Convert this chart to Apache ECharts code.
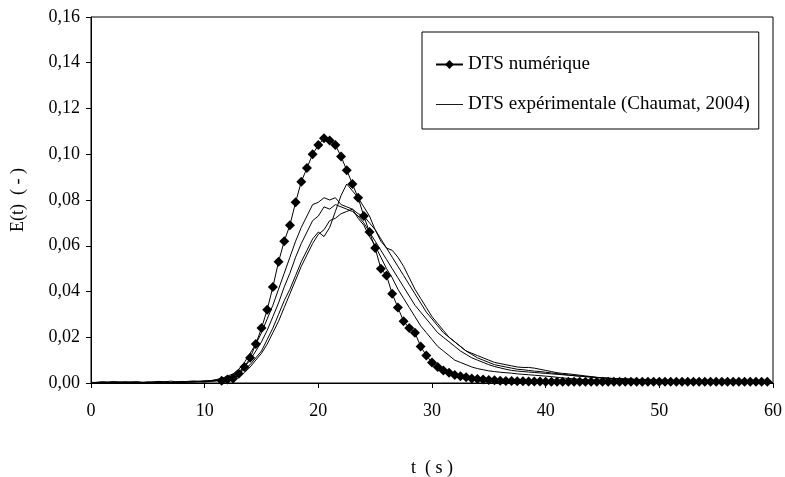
<!DOCTYPE html>
<html><head><meta charset="utf-8">
<script src="https://cdn.jsdelivr.net/npm/echarts@6/dist/echarts.min.js"></script>
<style>html,body{margin:0;padding:0;background:#fff}#c{width:785px;height:477px}</style>
</head><body><div id="c"></div>
<script>
// Numerical RTD (diamonds)
const tNum = [11.5,12,12.5,13,13.5,14,14.5,15,15.5,16,16.5,17,17.5,18,18.5,19,19.5,20,20.5,21,21.5,22,22.5,23,23.5,24,24.5,25,25.5,26,26.5,27,27.5,28,28.5,29,29.5,30,30.5,31,31.5,32,32.5,33,33.5,34,34.5,35,35.5,36,36.5,37,37.5,38,38.5,39,39.5,40,40.5,41,41.5,42,42.5,43,43.5,44,44.5,45,45.5,46,46.5,47,47.5,48,48.5,49,49.5,50,50.5,51,51.5,52,52.5,53,53.5,54,54.5,55,55.5,56,56.5,57,57.5,58,58.5,59,59.5,60];
const eNum = [0.001,0.0015,0.002,0.004,0.007,0.011,0.017,0.024,0.032,0.042,0.053,0.062,0.069,0.079,0.088,0.094,0.100,0.104,0.107,0.106,0.104,0.099,0.093,0.087,0.081,0.073,0.066,0.059,0.050,0.047,0.039,0.033,0.027,0.024,0.022,0.016,0.012,0.009,0.007,0.0055,0.0045,0.0035,0.003,0.0025,0.002,0.0018,0.0015,0.0013,0.0012,0.001,0.0009,0.0009,0.0008,0.0008,0.0007,0.0007,0.0007,0.0006,0.0006,0.0006,0.0006,0.0005,0.0005,0.0005,0.0005,0.0005,0.0005,0.0005,0.0005,0.0005,0.0005,0.0005,0.0005,0.0005,0.0005,0.0005,0.0005,0.0005,0.0005,0.0005,0.0005,0.0005,0.0005,0.0005,0.0005,0.0005,0.0005,0.0005,0.0005,0.0005,0.0005,0.0005,0.0005,0.0005,0.0005,0.0005,0.0005];
// Experimental RTD time base
const tExp = [0,1,2,3,4,5,6,7,8,9,10,10.5,11,11.5,12,12.5,13,13.5,14,14.5,15,15.5,16,16.5,17,17.5,18,18.5,19,19.5,20,20.5,21,21.5,22,22.5,23,23.5,24,24.5,25,25.5,26,26.5,27,27.5,28,28.5,29,29.5,30,30.5,31,31.5,32,32.5,33,33.5,34,34.5,35,35.5,36,36.5,37,37.5,38,38.5,39,39.5,40,40.5,41,41.5,42,42.5,43,43.5,44,44.5,45,46,47,48,49,50,51,52,53,54,55,56,57,58,59,60];
const expA = [0,0.0005,0,0.0003,0,0.0005,0.0002,0.0008,0.0003,0.0005,0.001,0.001,0.0015,0.002,0.003,0.004,0.006,0.009,0.013,0.017,0.022,0.028,0.034,0.041,0.048,0.055,0.062,0.068,0.073,0.078,0.079,0.081,0.080,0.081,0.078,0.077,0.076,0.072,0.069,0.064,0.060,0.055,0.050,0.046,0.041,0.037,0.033,0.029,0.025,0.022,0.019,0.016,0.014,0.012,0.010,0.009,0.008,0.007,0.0063,0.0058,0.0053,0.005,0.0047,0.0045,0.0043,0.004,0.0038,0.0036,0.0034,0.0032,0.003,0.0028,0.0025,0.0022,0.002,0.0018,0.0016,0.0014,0.0012,0.001,0.001,0.0008,0.0006,0.0006,0.0005,0.0004,0.0003,0.0003,0.0002,0.0002,0.0001,0.0001,0,0,0,0];
const expB = [0.0003,0,0.0005,0.0002,0.0006,0,0.0004,0.0002,0.0007,0.0004,0.0008,0.0008,0.001,0.0015,0.002,0.003,0.004,0.006,0.008,0.011,0.014,0.019,0.024,0.030,0.036,0.041,0.047,0.053,0.058,0.063,0.066,0.064,0.068,0.075,0.082,0.087,0.084,0.081,0.077,0.073,0.067,0.062,0.059,0.058,0.055,0.051,0.046,0.041,0.037,0.033,0.029,0.026,0.023,0.020,0.018,0.016,0.014,0.013,0.012,0.011,0.010,0.009,0.0085,0.008,0.0075,0.007,0.0068,0.0068,0.0065,0.006,0.0055,0.005,0.0045,0.0042,0.004,0.0037,0.0034,0.0031,0.0028,0.0025,0.0022,0.0019,0.0016,0.0014,0.0012,0.001,0.0008,0.0007,0.0006,0.0005,0.0004,0.0003,0.0002,0.0002,0.0001,0.0001];
const expC = [0.0002,0.0004,0.0001,0.0006,0.0002,0.0003,0.0007,0.0001,0.0005,0.0009,0.0006,0.001,0.0012,0.0018,0.0025,0.0035,0.005,0.007,0.010,0.014,0.018,0.023,0.029,0.035,0.042,0.048,0.055,0.061,0.066,0.071,0.073,0.077,0.076,0.078,0.077,0.076,0.075,0.073,0.070,0.066,0.062,0.058,0.054,0.050,0.046,0.042,0.038,0.034,0.031,0.028,0.025,0.022,0.020,0.018,0.016,0.014,0.0125,0.011,0.010,0.009,0.008,0.0072,0.0066,0.006,0.0055,0.0052,0.005,0.0048,0.0046,0.0044,0.0042,0.004,0.0038,0.0036,0.0034,0.0032,0.003,0.0028,0.0026,0.0024,0.0022,0.002,0.0018,0.0016,0.0014,0.0012,0.0011,0.001,0.0008,0.0007,0.0006,0.0005,0.0004,0.0003,0.0003,0.0002];
const expD = [0.0001,0.0003,0.0006,0.0002,0.0004,0.0001,0.0005,0.0003,0.0002,0.0006,0.0004,0.0007,0.0009,0.0013,0.0018,0.0024,0.003,0.0045,0.007,0.010,0.013,0.017,0.022,0.027,0.033,0.039,0.045,0.051,0.056,0.061,0.065,0.067,0.071,0.072,0.074,0.075,0.076,0.074,0.073,0.070,0.067,0.063,0.059,0.055,0.051,0.047,0.043,0.039,0.035,0.031,0.028,0.025,0.022,0.020,0.018,0.016,0.014,0.0125,0.011,0.010,0.009,0.008,0.0075,0.007,0.0065,0.006,0.0058,0.0055,0.0052,0.005,0.0047,0.0044,0.0041,0.0038,0.0035,0.0032,0.003,0.0028,0.0026,0.0024,0.0022,0.0019,0.0017,0.0015,0.0013,0.0011,0.001,0.0009,0.0008,0.0007,0.0006,0.0005,0.0004,0.0003,0.0003,0.0002];
const yTicks = ['0,00','0,02','0,04','0,06','0,08','0,10','0,12','0,14','0,16'];
const xTicks = ['0','10','20','30','40','50','60'];
const names = ['DTS numérique','DTS expérimentale (Chaumat, 2004)'];

const zip = (t, e) => t.map((v, i) => [v, e[i]]);
const FONT = 'Liberation Serif';
const expStyle = {type:'line', showSymbol:false, symbol:'none', lineStyle:{color:'#000', width:1}, itemStyle:{color:'#000'}, z:2, silent:true};
const chart = echarts.init(document.getElementById('c'), null, {renderer:'canvas'});
chart.setOption({
  animation:false,
  backgroundColor:'#fff',
  grid:{left:91, right:12, top:17, bottom:94, containLabel:false, outerBoundsMode:'none', show:true, borderColor:'#000', borderWidth:1, backgroundColor:'transparent'},
  legend:{
    orient:'vertical', left:422, top:32, padding:[23,9,15,13], itemGap:21,
    itemWidth:27, itemHeight:11, backgroundColor:'#fff', borderColor:'#000', borderWidth:1,
    textStyle:{fontFamily:FONT, fontSize:19, color:'#000'},
    data:[{name:names[0]}, {name:names[1], icon:'path://M0,0H30V1H0Z'}]
  },
  xAxis:{type:'value', min:0, max:60, interval:10,
    name:'t  ( s )', nameLocation:'middle', nameGap:76,
    nameTextStyle:{fontFamily:FONT, fontSize:18, color:'#000'},
    axisLine:{lineStyle:{color:'#000', width:1}}, axisTick:{show:true, length:5, inside:false, lineStyle:{color:'#000'}},
    axisLabel:{fontFamily:FONT, fontSize:18, color:'#000', margin:19, formatter:(v)=>xTicks[Math.round(v/10)]},
    splitLine:{show:false}},
  yAxis:{type:'value', min:0, max:0.16, interval:0.02,
    name:'E(t)  ( - )', nameLocation:'middle', nameGap:64, nameRotate:90,
    nameTextStyle:{fontFamily:FONT, fontSize:18, color:'#000'},
    axisLine:{show:true, lineStyle:{color:'#000', width:1}}, axisTick:{show:true, length:5, lineStyle:{color:'#000'}},
    axisLabel:{fontFamily:FONT, fontSize:18, color:'#000', margin:11, formatter:(v)=>yTicks[Math.round(v/0.02)]},
    splitLine:{show:false}},
  series:[
    {name:names[0], type:'line', data:zip(tNum,eNum), symbol:'diamond', symbolSize:10, showSymbol:true,
      lineStyle:{color:'#000', width:1}, itemStyle:{color:'#000'}, z:3},
    Object.assign({name:names[1], data:zip(tExp,expA)}, expStyle),
    Object.assign({name:'B', data:zip(tExp,expB)}, expStyle),
    Object.assign({name:'C', data:zip(tExp,expC)}, expStyle),
    Object.assign({name:'D', data:zip(tExp,expD)}, expStyle)
  ]
});
</script></body></html>
